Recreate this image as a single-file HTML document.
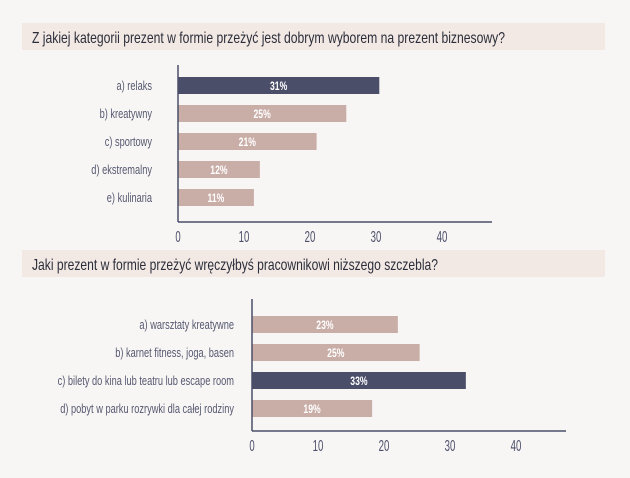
<!DOCTYPE html>
<html><head><meta charset="utf-8"><style>
body{margin:0;background:#f8f6f4;width:630px;height:473px;overflow:hidden;font-family:"Liberation Sans",sans-serif;}
svg text{font-family:"Liberation Sans",sans-serif;}
</style></head><body>
<svg id="s" width="630" height="473">
<rect x="0" y="0" width="630" height="473" fill="#f8f6f4"/>
<rect x="22" y="23" width="583" height="27" fill="#f2e9e4"/>
<text x="32" y="43" font-size="16" fill="#2b2d3a" textLength="473" lengthAdjust="spacingAndGlyphs">Z jakiej kategorii prezent w formie przeżyć jest dobrym wyborem na prezent biznesowy?</text>
<rect x="22" y="250" width="583" height="27" fill="#f2e9e4"/>
<text x="32" y="270" font-size="16" fill="#2b2d3a" textLength="406" lengthAdjust="spacingAndGlyphs">Jaki prezent w formie przeżyć wręczyłbyś pracownikowi niższego szczebla?</text>
<g id="c1"></g><g id="c2"></g>
</svg>
<script>
const cats1=["a) relaks","b) kreatywny","c) sportowy","d) ekstremalny","e) kulinaria"];
const vals1=[30.5,25.5,21,12.4,11.5];
const labels1=["31%","25%","21%","12%","11%"];
const hi1=[true,false,false,false,false];
const cats2=["a) warsztaty kreatywne","b) karnet fitness, joga, basen","c) bilety do kina lub teatru lub escape room","d) pobyt w parku rozrywki dla całej rodziny"];
const vals2=[22.1,25.4,32.4,18.2];
const labels2=["23%","25%","33%","19%"];
const hi2=[false,false,true,false];
const ticks=[0,10,20,30,40];
const NS="http://www.w3.org/2000/svg";
function mk(p,t,a){const e=document.createElementNS(NS,t);for(const k in a)e.setAttribute(k,a[k]);p.appendChild(e);return e;}
function squeeze(t,f){const L=t.getComputedTextLength();t.setAttribute("textLength",(L*f).toFixed(1));t.setAttribute("lengthAdjust","spacingAndGlyphs");}
function draw(gid,cats,vals,labels,hi,cfg){
 const g=document.getElementById(gid);
 const x=v=>cfg.x0+v*6.6;
 cats.forEach((c,i)=>{
  const y=cfg.y0+i*28;
  const r=mk(g,"rect",{x:x(0),y:y,width:x(vals[i])-x(0),height:17,fill:hi[i]?"#4a4e69":"#c9ada7"});
  
  
  const t=mk(g,"text",{x:(x(0)+x(vals[i]))/2,y:y+13,"text-anchor":"middle","font-size":"12","font-weight":"bold",fill:"#fff"});
  t.textContent=labels[i];
  
  
  squeeze(t,0.72);
  const l=mk(g,"text",{x:cfg.lx,y:y+13,"text-anchor":"end","font-size":"12.5",fill:"#555870"});
  l.textContent=c;
  
  
  squeeze(l,0.74);
 });
 const a1=mk(g,"line",{x1:x(0),x2:x(0),y1:cfg.ay0,y2:cfg.ay1,stroke:"#4a4e69","stroke-width":"1.5"});
 
 
 const a2=mk(g,"line",{x1:x(0),x2:cfg.ax1,y1:cfg.ay1,y2:cfg.ay1,stroke:"#4a4e69","stroke-width":"1.5"});
 
 
 ticks.forEach(v=>{
  const t=mk(g,"text",{x:x(v),y:cfg.ay1+20,"text-anchor":"middle","font-size":"16",fill:"#4a4e69"});
  t.textContent=v;
  
  
  squeeze(t,0.6);
 });
}
draw("c1",cats1,vals1,labels1,hi1,{x0:178,y0:77,lx:152,ay0:65,ay1:222,ax1:492});
draw("c2",cats2,vals2,labels2,hi2,{x0:252,y0:316,lx:234,ay0:299,ay1:431,ax1:566});
</script>
</body></html>
